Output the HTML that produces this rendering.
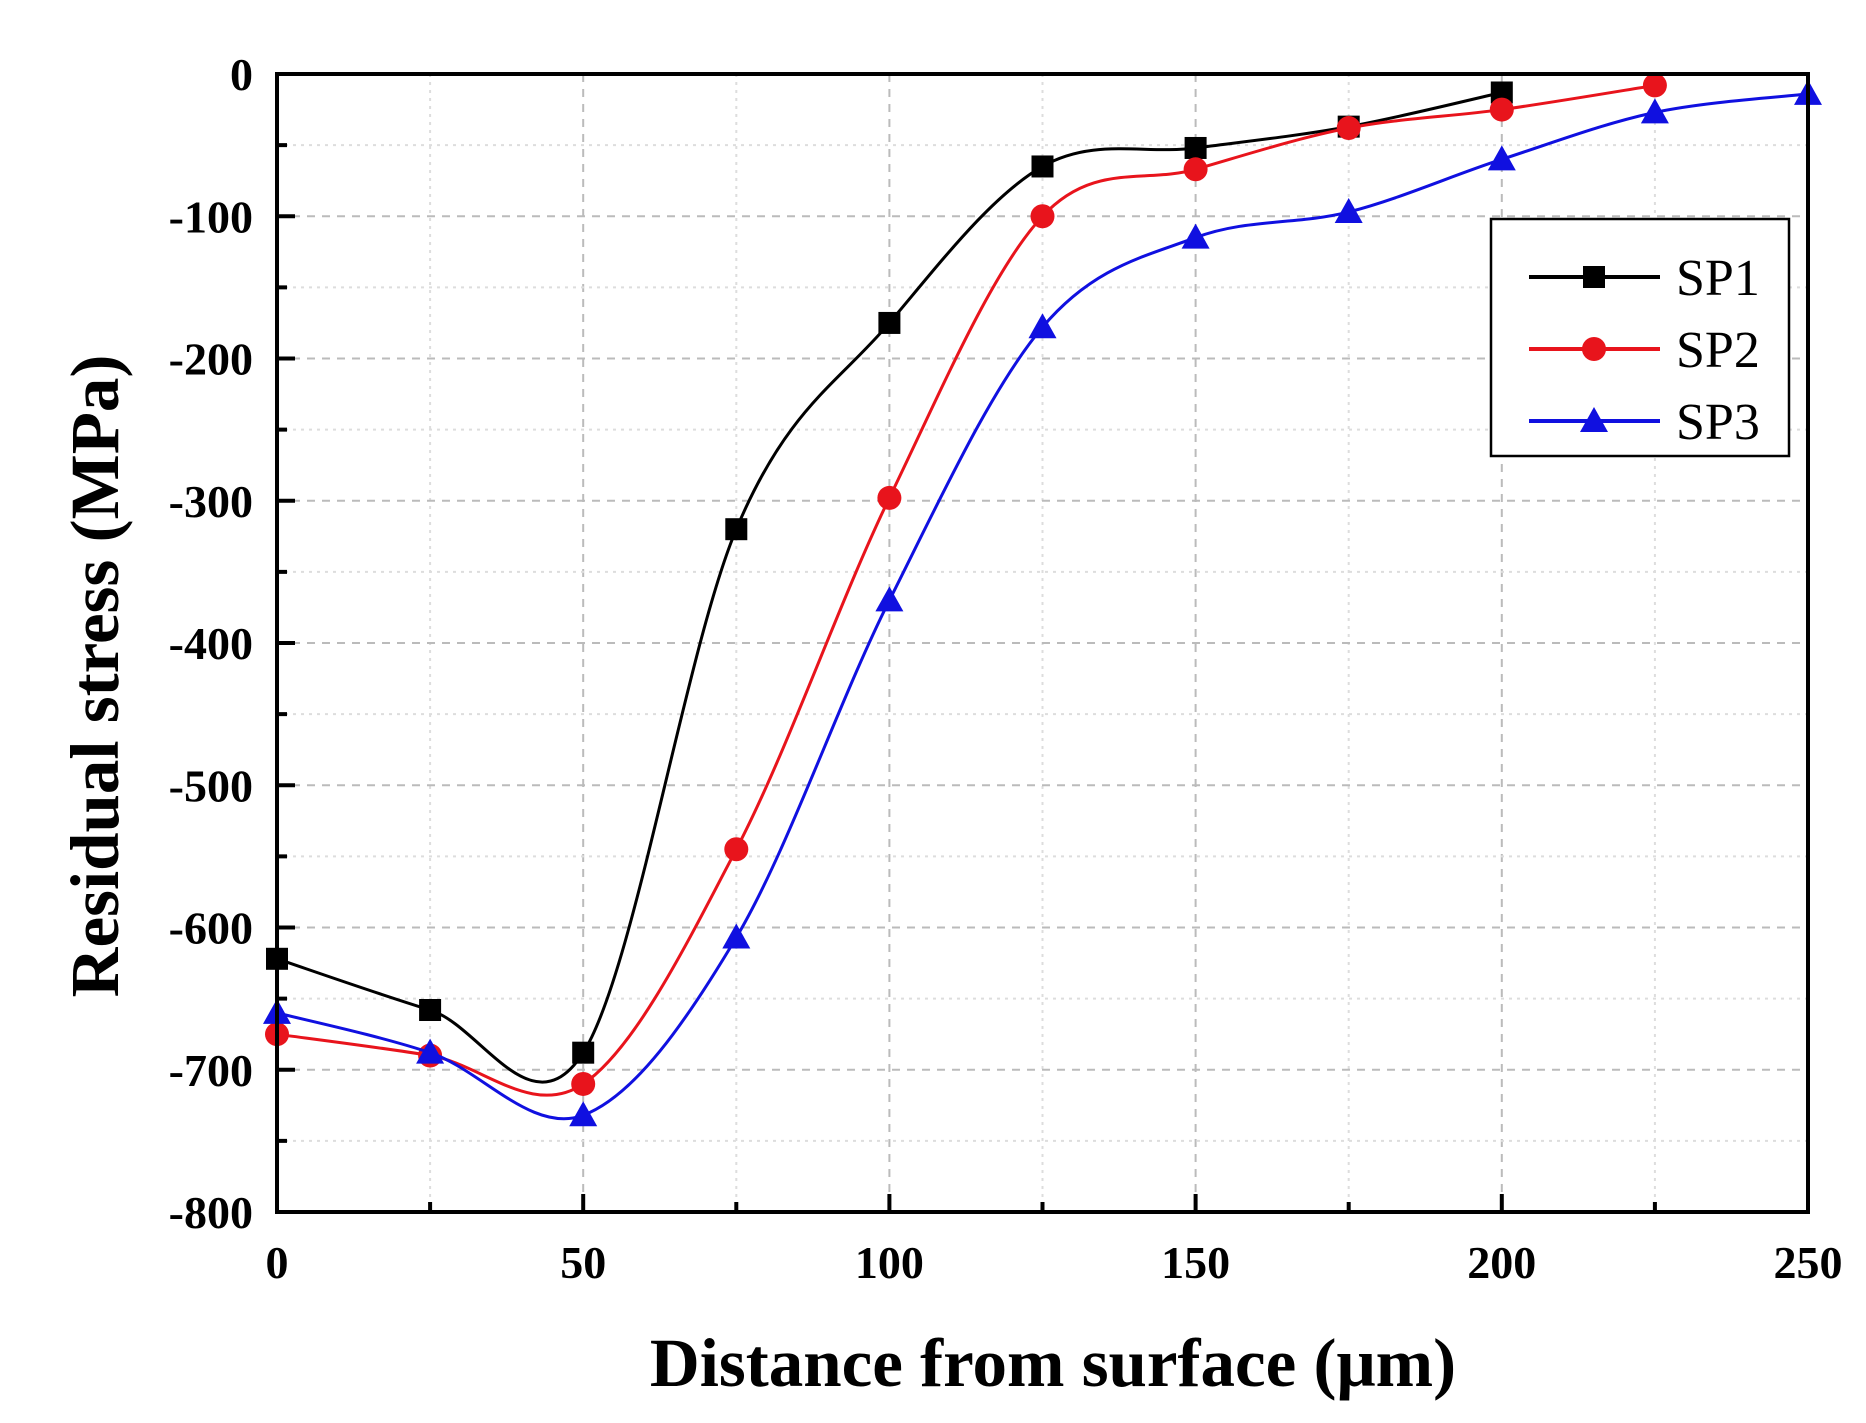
<!DOCTYPE html>
<html><head><meta charset="utf-8"><style>
html,body{margin:0;padding:0;background:#fff;}
svg{display:block;font-family:"Liberation Serif",serif;}
</style></head><body>
<svg id="chart" width="1866" height="1423" viewBox="0 0 1866 1423" xmlns="http://www.w3.org/2000/svg">
<g id="grid"></g>
<g id="series"></g>
<g id="axes"></g>
<text x="0" y="0" transform="translate(118,676) rotate(-90)" text-anchor="middle" font-size="69" font-weight="bold">Residual stress (MPa)</text>
<text x="1053" y="1386" text-anchor="middle" font-size="69" font-weight="bold">Distance from surface (μm)</text>
<g id="legend"></g>
</svg>
<script>
const xCats=[0,25,50,75,100,125,150,175,200,225,250];
const sp1=[-622,-658,-688,-320,-175,-65,-52,-37,-13];
const sp2=[-675,-690,-710,-545,-298,-100,-67,-38,-25,-8];
const sp3=[-660,-688,-732,-607,-370,-178,-115,-97,-60,-27,-14];
const xTicks=[0,50,100,150,200,250];
const yTicks=[0,-100,-200,-300,-400,-500,-600,-700,-800];
const seriesNames=["SP1","SP2","SP3"];

const L=277,R=1808,T=74,B=1212;
const X=v=>L+(v-0)/250*(R-L);
const Y=v=>T+(0-v)/800*(B-T);
const NS="http://www.w3.org/2000/svg";
function mk(tag,attrs,parent){const e=document.createElementNS(NS,tag);for(const k in attrs)e.setAttribute(k,attrs[k]);parent.appendChild(e);return e;}
const grid=document.getElementById('grid'),axes=document.getElementById('axes'),ser=document.getElementById('series'),leg=document.getElementById('legend');

for(let v=25;v<250;v+=25){const g=mk('line',{x1:X(v),x2:X(v),y1:T,y2:B,stroke:v%50?'#ddd':'#bbb','stroke-width':2,'stroke-dasharray':v%50?'3,5':'8,7'},grid);

}
for(let v=-50;v>-800;v-=50){const g=mk('line',{x1:L,x2:R,y1:Y(v),y2:Y(v),stroke:v%100?'#ddd':'#bbb','stroke-width':2,'stroke-dasharray':v%100?'3,5':'8,7'},grid);

}

const fr=mk('rect',{x:L,y:T,width:R-L,height:B-T,fill:'none',stroke:'#000','stroke-width':4},axes);


for(let v=0;v<=250;v+=25){const t=mk('line',{x1:X(v),x2:X(v),y1:B,y2:B-(v%50?10:18),stroke:'#000','stroke-width':4},axes);

}
for(let v=0;v>=-800;v-=50){const t=mk('line',{x1:L,x2:L+(v%100?10:18),y1:Y(v),y2:Y(v),stroke:'#000','stroke-width':4},axes);

}
xTicks.forEach(v=>{const t=mk('text',{x:X(v),y:B+66,'text-anchor':'middle','font-size':46,'font-weight':'bold'},axes);t.textContent=v;

});
yTicks.forEach(v=>{const t=mk('text',{x:L-24,y:Y(v)+16,'text-anchor':'end','font-size':46,'font-weight':'bold'},axes);t.textContent=v;

});

function pathFor(vals){
  const p=vals.map((v,i)=>[X(xCats[i]),Y(v)]);
  let d='M'+p[0][0]+','+p[0][1];
  for(let i=0;i<p.length-1;i++){
    const p0=p[i-1]||p[i],p1=p[i],p2=p[i+1],p3=p[i+2]||p2;
    const c1=[p1[0]+(p2[0]-p0[0])/6,p1[1]+(p2[1]-p0[1])/6];
    const c2=[p2[0]-(p3[0]-p1[0])/6,p2[1]-(p3[1]-p1[1])/6];
    d+=` C${c1[0]},${c1[1]} ${c2[0]},${c2[1]} ${p2[0]},${p2[1]}`;
  }
  return d;
}
function marker(type,cx,cy,color,parent,name){
  let m;
  if(type==='sq') m=mk('rect',{x:cx-11,y:cy-11,width:22,height:22,fill:color},parent);
  else if(type==='ci') m=mk('circle',{cx:cx,cy:cy,r:12,fill:color},parent);
  else m=mk('polygon',{points:`${cx},${cy-14} ${cx-14},${cy+11} ${cx+14},${cy+11}`,fill:color},parent);
  
  
}
const defs=[[sp1,'#000','sq'],[sp2,'#e8141c','ci'],[sp3,'#1010e0','tr']];
defs.forEach(([vals,col,mt],si)=>{
  const g=mk('g',{},ser);
  
  
  const ln=mk('path',{d:pathFor(vals),fill:'none',stroke:col,'stroke-width':3},g);
  
  
  vals.forEach((v,i)=>marker(mt,X(xCats[i]),Y(v),col,g,'point-'+seriesNames[si].toLowerCase()));
});

const lb=mk('rect',{x:1491,y:219,width:298,height:237,fill:'#fff',stroke:'#000','stroke-width':2.5},leg);


defs.forEach(([vals,col,mt],i)=>{
  const y=277+i*72;
  const g=mk('g',{},leg);
  
  
  mk('line',{x1:1529,x2:1660,y1:y,y2:y,stroke:col,'stroke-width':4},g);
  marker(mt,1594,y,col,g,'legend-marker');
  const t=mk('text',{x:1676,y:y+18,'font-size':52},g);t.textContent=seriesNames[i];
  
  
});
</script>
</body></html>
